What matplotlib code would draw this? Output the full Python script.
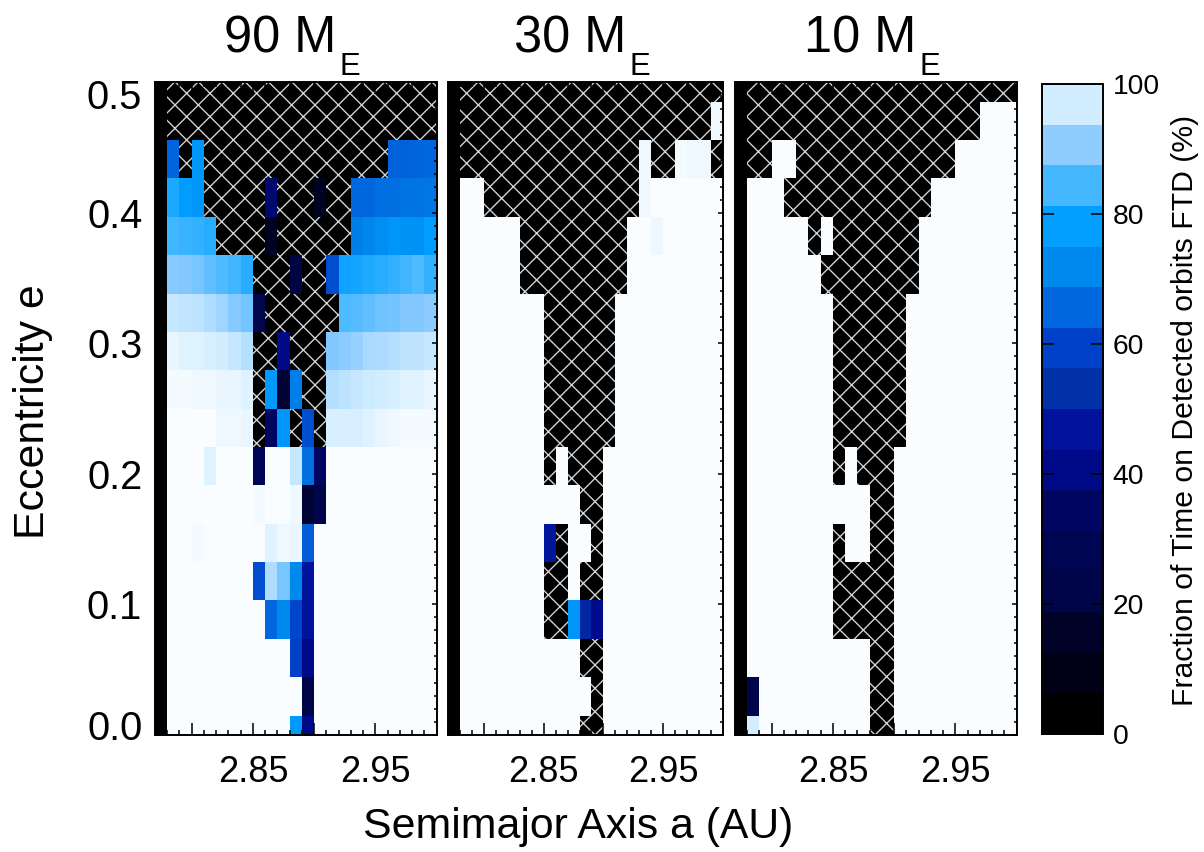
import numpy as np
import matplotlib
matplotlib.use('Agg')
import matplotlib.pyplot as plt
from matplotlib.colors import LinearSegmentedColormap, ListedColormap, BoundaryNorm
from matplotlib.patches import Rectangle
from matplotlib.ticker import MultipleLocator
from matplotlib.transforms import ScaledTranslation

plt.rcParams['font.family'] = ['Liberation Sans', 'DejaVu Sans']
plt.rcParams['hatch.linewidth'] = 0.7

n = np.nan

# planet masses of the three panels (Earth masses)
masses = ['90', '30', '10']

# grid: semimajor axis cell edges (AU) and eccentricity cell centres
a_edges = np.round(2.77 + 0.01 * np.arange(24), 2)
e_vals = np.arange(18) * 0.5 / 17

# FTD (%) per cell, top row (e = 0.5) first, columns a = 2.78 ... 2.99
# nan = no stable orbits (hatched)
ftd_90 = [
    [n] * 22,
    [n] * 22,
    [65.5, n, 75.5] + [n] * 15 + [65, 65, 65.5, 66],
    [80.5, 78, 75.5] + [n] * 5 + [37] + [n] * 3 + [14, n, n, 66, 66, 67, 67, 68, 68, 68.5],
    [84, 83.5, 83, 82] + [n] * 4 + [14] + [n] * 6 + [70, 71.5, 73.5, 76, 75, 74.5, 78],
    [90, 89.5, 89, 87, 85.5, 84, 82, n, n, n, 21, n, n, 61.5, 79.5, 80, 81, 82, 83, 84, 85.5, 83],
    [96, 95.5, 95, 94, 92.5, 90, 88.5, 25] + [n] * 6 + [85.5, 86, 87, 88, 88.5, 89.5, 89.5, 90.5],
    [98.5, 98, 98, 97.5, 97, 96, 94.5, n, n, 40, n, n, n, 89.5, 90.5, 91.5, 93, 93.5, 94.5, 95, 95, 96],
    [99.5, 99.5, 99, 99, 98.5, 98.5, 98, n, 77, 18, 70, n, n, 94.5, 95, 96, 96.5, 97, 97.5, 98, 98, 98.5],
    [100, 100, 100, 100, 99, 99, 98.5, n, 34, 75.5, n, 61.5, n, 97.5, 97.5, 97.5, 98, 98.5, 99, 99.5, 99.5, 99.5],
    [100, 100, 100, 98, 100, 100, 100, 30, 100, 100, 96, 67.5, 34] + [100] * 9,
    [100] * 7 + [99.5, 100, 100, 99, 18, 24] + [100] * 9,
    [100, 100, 99.5] + [100] * 5 + [98, 99, 98.5, 64] + [100] * 10,
    [100] * 7 + [61.5, 94, 89, 72, 47] + [100] * 10,
    [100] * 8 + [66, 72, 60.5, 47] + [100] * 10,
    [100] * 10 + [59, 41] + [100] * 10,
    [100] * 11 + [22] + [100] * 10,
    [100] * 10 + [77, 41] + [100] * 10,
]

ftd_30 = [
    [n] * 22,
    [n] * 21 + [99],
    [n] * 15 + [99, n, n, 99.5, 99, 99, n],
    [100, 100] + [n] * 13 + [99] + [100] * 6,
    [100] * 5 + [n] * 9 + [100, 100, 99] + [100] * 5,
    [100] * 5 + [n] * 9 + [100] * 8,
    [100] * 7 + [n] * 6 + [100] * 9,
    [100] * 7 + [n] * 6 + [100] * 9,
    [100] * 7 + [n] * 6 + [100] * 9,
    [100] * 7 + [n] * 6 + [100] * 9,
    [100] * 7 + [n, 100, n, n, n] + [100] * 10,
    [100] * 10 + [n, n] + [100] * 10,
    [100] * 7 + [48, n, 100, 100, n] + [100] * 10,
    [100] * 7 + [n, n, 100, n, n] + [100] * 10,
    [100] * 7 + [n, n, 75.5, 51, 42] + [100] * 10,
    [100] * 10 + [n, n] + [100] * 10,
    [100] * 11 + [n] + [100] * 10,
    [100] * 10 + [n, n] + [100] * 10,
]

ftd_10 = [
    [n] * 22,
    [n] * 19 + [100] * 3,
    [n, n, 100, 100] + [n] * 13 + [100] * 5,
    [100] * 3 + [n] * 12 + [100] * 7,
    [100] * 5 + [n, 100] + [n] * 7 + [100] * 8,
    [100] * 6 + [n] * 8 + [100] * 8,
    [100] * 7 + [n] * 6 + [100] * 9,
    [100] * 7 + [n] * 6 + [100] * 9,
    [100] * 7 + [n] * 6 + [100] * 9,
    [100] * 7 + [n] * 6 + [100] * 9,
    [100] * 7 + [n, 100, n, n, n] + [100] * 10,
    [100] * 10 + [n, n] + [100] * 10,
    [100] * 7 + [n, 100, 100, n, n] + [100] * 10,
    [100] * 7 + [n] * 5 + [100] * 10,
    [100] * 7 + [n] * 5 + [100] * 10,
    [100] * 10 + [n, n] + [100] * 10,
    [24] + [100] * 9 + [n, n] + [100] * 10,
    [97] + [100] * 9 + [n, n] + [100] * 10,
]

# colour table
cmap_pos = [0, 3.125, 9.375, 15.625, 21.875, 28.125, 34.375, 40.625, 46.875,
            53.125, 59.375, 65.625, 71.875, 78.125, 84.375, 90.625, 96.875, 100]
cmap_col = ['#000000', '#000000', '#000114', '#000228', '#000448', '#000552',
            '#000660', '#000a88', '#00129a', '#0030a8', '#0040c8', '#0066dd',
            '#0088ec', '#009dff', '#40b6ff', '#8ccbff', '#cdebff', '#fafdff']
cmap = LinearSegmentedColormap.from_list(
    'ftd', list(zip(np.array(cmap_pos) / 100, cmap_col)))

e_edges = np.concatenate([[0], (e_vals[:-1] + e_vals[1:]) / 2, [0.5]])

fig = plt.figure(figsize=(8.6, 852 / 140), dpi=140)
W, H = 1204, 852
ax_x = [(155, 281.5), (448, 275), (735, 281.5)]
bottom, height = (H - 734.7) / H, 652.2 / H

for i, (m, grid) in enumerate(zip(masses, [ftd_90, ftd_30, ftd_10])):
    x0, w = ax_x[i]
    ax = fig.add_axes([x0 / W, bottom, w / W, height])
    z = np.array(grid, dtype=float)[::-1]
    # leftmost column is drawn solid black in the original
    z = np.hstack([np.zeros((z.shape[0], 1)), z])
    ax.add_patch(Rectangle((0, 0), 1, 1, transform=ax.transAxes, facecolor='black',
                           edgecolor='#d4d4d4', hatch='xx', linewidth=0, zorder=0.5))
    ax.pcolormesh(a_edges, e_edges, np.ma.masked_invalid(z), cmap=cmap,
                  vmin=0, vmax=100, zorder=1)
    ax.set_xlim(2.77, 3.0)
    ax.set_ylim(0, 0.5)

    ax.set_xticks([2.80, 2.85, 2.90, 2.95])
    ax.set_xticklabels(['', '2.85', '', '2.95'])
    ax.xaxis.set_minor_locator(MultipleLocator(0.01))
    ax.set_yticks([0, 0.1, 0.2, 0.3, 0.4, 0.5])
    ax.yaxis.set_minor_locator(MultipleLocator(0.01))
    ax.tick_params(axis='both', which='both', direction='in', top=True, right=True,
                   width=0.8, colors='black')
    ax.tick_params(axis='x', which='major', length=6.2, labelsize=18.6, pad=10.5)
    ax.tick_params(axis='x', which='minor', length=2.6)
    ax.tick_params(axis='y', which='major', length=2.8, labelsize=20.5, pad=6.5)
    ax.tick_params(axis='y', which='minor', length=1.4)
    for s in ax.spines.values():
        s.set_linewidth(1.0)
    if i == 0:
        yt = ax.yaxis.get_major_ticks()
        yt[0].label1.set_transform(yt[0].label1.get_transform() +
                                   ScaledTranslation(0, 10 / 140, fig.dpi_scale_trans))
        yt[-1].label1.set_transform(yt[-1].label1.get_transform() +
                                    ScaledTranslation(0, -12 / 140, fig.dpi_scale_trans))
    else:
        ax.set_yticklabels([])

    t = ax.text(0.445, 1.046, f'{m} M', transform=ax.transAxes, ha='center',
                va='baseline', fontsize=26)
    ax.annotate('E', xy=(1, 0), xycoords=t, xytext=(1.5, -6), textcoords='offset points',
                ha='left', va='baseline', fontsize=16)

# colour bar with 16 discrete levels
bounds = np.linspace(0, 100, 17)
centers = (bounds[:-1] + bounds[1:]) / 2
bar_cmap = ListedColormap(cmap(centers / 100))
norm = BoundaryNorm(bounds, bar_cmap.N)
cax = fig.add_axes([1042 / W, (H - 734) / H, 61 / W, 650 / H])
cb = fig.colorbar(plt.cm.ScalarMappable(norm=norm, cmap=bar_cmap), cax=cax,
                  ticks=[0, 20, 40, 60, 80, 100])
cb.outline.set_linewidth(1.0)
cb.minorticks_off()
cax.tick_params(direction='in', left=True, right=True, length=6.2, width=0.8,
                labelsize=14.5, pad=5)

fig.text(1185 / W, 1 - 410 / H, 'Fraction of Time on Detected orbits FTD (%)',
         rotation=90, ha='center', va='center', fontsize=15.5)
fig.text(33 / W, 1 - 412 / H, 'Eccentricity e', rotation=90, ha='center',
         va='center', fontsize=22)
fig.text(578 / W, 1 - 827 / H, 'Semimajor Axis a (AU)', ha='center', va='center',
         fontsize=22)

fig.savefig('out.png', dpi=140)
